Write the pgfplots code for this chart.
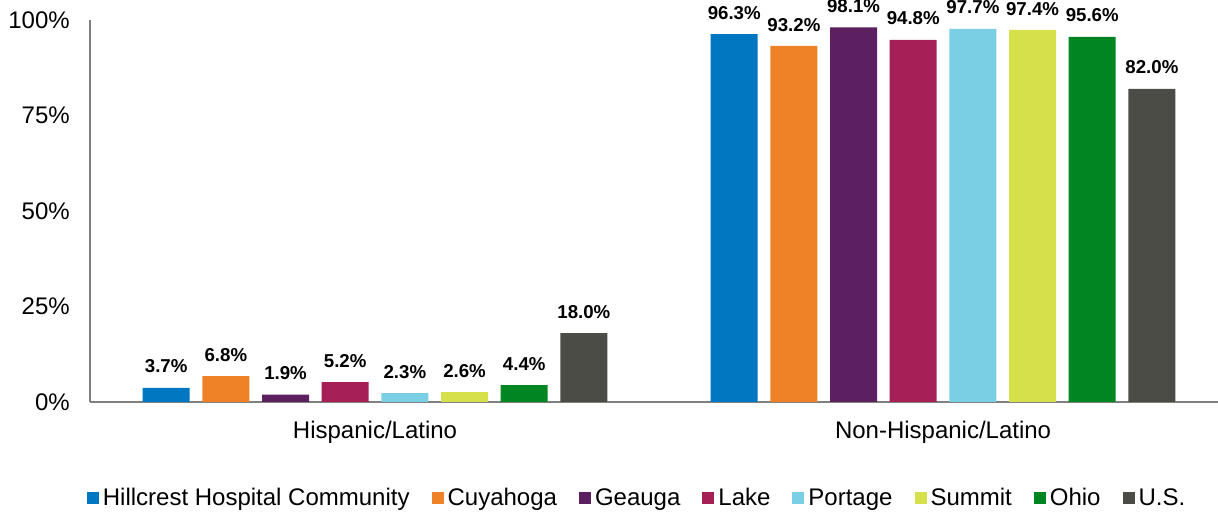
\documentclass[border=0pt]{standalone}
\usepackage{pgfplots}
\pgfplotsset{compat=1.18}
\usepackage{fontspec}
\setmainfont{Liberation Sans}

\definecolor{cHill}{RGB}{0,119,192}
\definecolor{cCuy}{RGB}{239,130,38}
\definecolor{cGea}{RGB}{92,31,95}
\definecolor{cLake}{RGB}{166,31,85}
\definecolor{cPort}{RGB}{122,207,229}
\definecolor{cSum}{RGB}{213,224,74}
\definecolor{cOhio}{RGB}{0,133,35}
\definecolor{cUS}{RGB}{75,76,69}
\definecolor{axgray}{RGB}{128,128,128}

\begin{document}
\begin{tikzpicture}
\begin{axis}[
    at={(0,0)}, anchor=south west,
    width=846pt, height=286.5pt, scale only axis,
    xmin=-0.5018, xmax=1.484,
    ymin=0, ymax=100,
    ybar=9.5pt, bar width=35.25pt,
    axis x line*=bottom, axis y line*=left,
    axis line style={axgray, line width=1.5pt, -},
    major tick length=0pt,
    xtick={0,1}, xticklabels={Hispanic/Latino, Non-Hispanic/Latino},
    ytick={0,25,50,75,100}, yticklabels={0\%,25\%,50\%,75\%,100\%},
    tick label style={font=\fontsize{18}{20}\selectfont, inner sep=0pt},
    xticklabel style={yshift=-14pt},
    yticklabel style={xshift=-15pt},
    /pgf/number format/assume math mode=true,
    nodes near coords={\pgfmathprintnumber[fixed,fixed zerofill,precision=1]{\pgfplotspointmeta}\%},
    every node near coord/.append style={font=\bfseries\fontsize{14}{16}\selectfont, black, yshift=7.5pt},
    clip=false,
    legend columns=-1,
    legend style={at={(-0.003,-0.251)}, anchor=west, draw=none, fill=none,
        inner sep=0pt, font=\fontsize{18}{20}\selectfont,
        nodes={inner sep=0pt},
        /tikz/every odd column/.append style={column sep=3pt},
        /tikz/every even column/.append style={column sep=16.5pt}},
    legend cell align=left,
    legend image code/.code={\fill[#1, draw=none] (0pt,-4.5pt) rectangle (9pt,4.5pt);},
]
\addplot[fill=cHill, draw=none] coordinates {(0,3.7) (1,96.3)};
\addplot[fill=cCuy, draw=none] coordinates {(0,6.8) (1,93.2)};
\addplot[fill=cGea, draw=none] coordinates {(0,1.9) (1,98.1)};
\addplot[fill=cLake, draw=none] coordinates {(0,5.2) (1,94.8)};
\addplot[fill=cPort, draw=none] coordinates {(0,2.3) (1,97.7)};
\addplot[fill=cSum, draw=none] coordinates {(0,2.6) (1,97.4)};
\addplot[fill=cOhio, draw=none] coordinates {(0,4.4) (1,95.6)};
\addplot[fill=cUS, draw=none] coordinates {(0,18.0) (1,82.0)};
\legend{Hillcrest Hospital Community, Cuyahoga, Geauga, Lake, Portage, Summit, Ohio, U.S.}
\end{axis}
\pgfresetboundingbox
\useasboundingbox (-67.5pt,-85.5pt) rectangle (846pt,301.5pt);
\end{tikzpicture}
\end{document}
